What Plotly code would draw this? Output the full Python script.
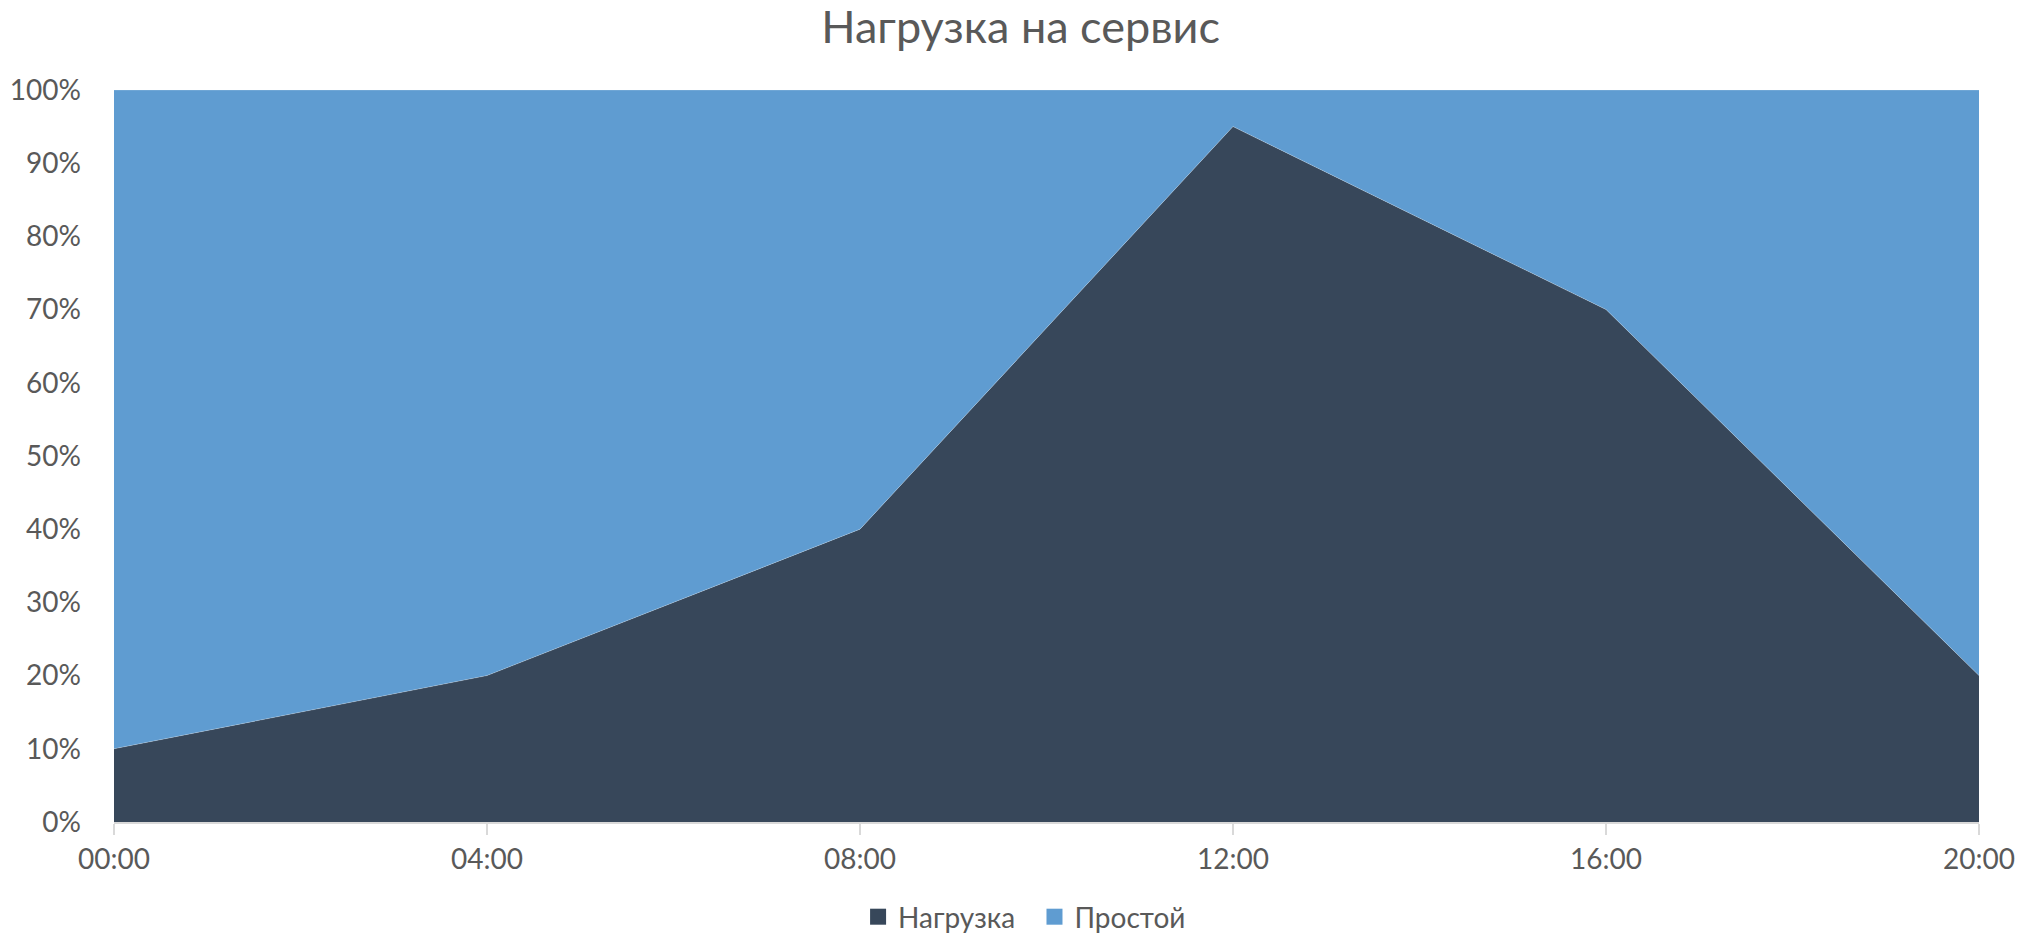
import plotly.graph_objects as go

categories = ["00:00", "04:00", "08:00", "12:00", "16:00", "20:00"]
load_pct = [10, 20, 40, 95, 70, 20]
idle_pct = [90, 80, 60, 5, 30, 80]
series_names = ["Нагрузка", "Простой"]
colors = ["#37475A", "#5F9CD1"]
y_ticks = [0, 10, 20, 30, 40, 50, 60, 70, 80, 90, 100]
y_tick_labels = [f"{v}%" for v in y_ticks]

FONT = "Lato, 'Open Sans', sans-serif"
GREY = "#595959"

fig = go.Figure()
for name, vals, col in zip(series_names, [load_pct, idle_pct], colors):
    fig.add_trace(go.Scatter(
        x=categories, y=vals, name=name, mode="lines",
        stackgroup="one", groupnorm="percent",
        line=dict(width=0.6, color="rgba(255,255,255,0.35)"),
        fillcolor=col, showlegend=False,
    ))
# legend entries with square swatches
for name, col in zip(series_names, colors):
    fig.add_trace(go.Scatter(
        x=[None], y=[None], name=name + "  ", mode="markers",
        marker=dict(symbol="square", size=18, color=col),
        showlegend=True,
    ))

fig.update_layout(
    width=2033, height=940,
    margin=dict(l=114, r=54, t=90, b=118, autoexpand=False),
    paper_bgcolor="white", plot_bgcolor="white",
    title=dict(text="Нагрузка на сервис", x=0.502, xanchor="center", xref="container",
               y=1 - 27 / 940, yanchor="middle", yref="container",
               font=dict(family=FONT, size=45, color=GREY)),
    font=dict(family=FONT, color=GREY, size=28),
    showlegend=True,
    legend=dict(orientation="h", x=0.492, xanchor="center",
                y=(822 - 917) / 732, yanchor="middle",
                font=dict(size=28, color=GREY), traceorder="normal",
                itemwidth=30),
    hovermode=False,
)
fig.update_xaxes(
    type="category", range=[0, len(categories) - 1],
    showgrid=False, showline=True, linecolor="#D9D9D9", linewidth=2,
    ticks="outside", ticklen=11, tickcolor="#D9D9D9", tickwidth=2,
    tickfont=dict(size=28, color=GREY), zeroline=False,
)
fig.update_yaxes(
    range=[0, 100], tickvals=y_ticks, ticktext=y_tick_labels,
    showgrid=False, showline=False, zeroline=False,
    ticks="", ticklabelstandoff=32,
    tickfont=dict(size=28, color=GREY),
)
fig.write_html("out.html")
